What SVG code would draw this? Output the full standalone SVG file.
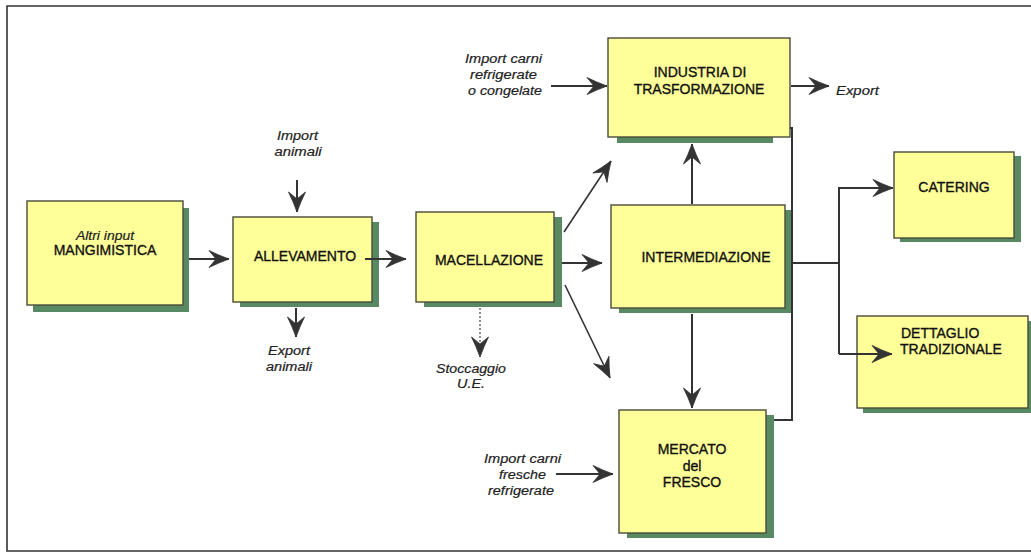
<svg xmlns="http://www.w3.org/2000/svg" width="1031" height="552" viewBox="0 0 1031 552">
<style>
.shadow{fill:#578a62}
.box{fill:#ffff99;stroke:#4a4a3a;stroke-width:1.4}
.lbl{font-family:"Liberation Sans",Arial,sans-serif;font-size:14px;fill:#111;stroke:#111;stroke-width:0.35;text-anchor:middle}
.ital{font-family:"Liberation Sans",Arial,sans-serif;font-size:12.5px;font-style:italic;fill:#222;stroke:#222;stroke-width:0.2;text-anchor:middle}
.con{fill:none;stroke:#333;stroke-width:2}
.thin{fill:none;stroke:#333;stroke-width:1.6}
.dash{fill:none;stroke:#444;stroke-width:1.2;stroke-dasharray:2 2}
</style>
<defs>
<marker id="ah" markerUnits="userSpaceOnUse" markerWidth="24" markerHeight="20" viewBox="-22 -10 24 20" refX="0" refY="0" orient="auto" overflow="visible">
<path d="M0,0 Q-11,-4 -20,-8.5 L-13,0 L-20,8.5 Q-11,4 0,0 Z" fill="#333" stroke="#333" stroke-width="0.8" stroke-linejoin="round"/>
</marker>
</defs>
<rect x="0" y="0" width="1031" height="552" fill="#fff"/>
<path d="M1031,6 H7 V551 H1031" fill="none" stroke="#333" stroke-width="1.6"/>

<g id="altri-input">
<rect class="shadow" x="33" y="208" width="156" height="104"/>
<rect class="box" x="27" y="201" width="156" height="104"/>
<text class="ital" x="105" y="240" font-size="13" textLength="58" lengthAdjust="spacingAndGlyphs">Altri input</text>
<text class="lbl" x="105" y="255">MANGIMISTICA</text>
</g>

<g id="allevamento">
<rect class="shadow" x="240" y="222" width="139" height="85"/>
<rect class="box" x="233" y="217" width="139" height="85"/>
<text class="lbl" x="305" y="261">ALLEVAMENTO</text>
</g>

<g id="macellazione">
<rect class="shadow" x="424" y="217" width="138" height="90"/>
<rect class="box" x="416" y="212" width="138" height="90"/>
<text class="lbl" x="489" y="265">MACELLAZIONE</text>
</g>

<g id="industria">
<rect class="shadow" x="617" y="44" width="156" height="99"/>
<rect class="box" x="608" y="38" width="182" height="99"/>
<text class="lbl" x="700" y="77">INDUSTRIA DI</text>
<text class="lbl" x="699" y="94">TRASFORMAZIONE</text>
</g>

<g id="intermediazione">
<rect class="shadow" x="619" y="210" width="174" height="103"/>
<rect class="box" x="611" y="205" width="174" height="103"/>
<text class="lbl" x="706" y="262">INTERMEDIAZIONE</text>
</g>

<g id="catering">
<rect class="shadow" x="900" y="156" width="121" height="86"/>
<rect class="box" x="894" y="152" width="120" height="86"/>
<text class="lbl" x="954" y="192">CATERING</text>
</g>

<g id="dettaglio">
<rect class="shadow" x="863" y="321" width="171" height="92"/>
<rect class="box" x="857" y="316" width="171" height="92"/>
<text class="lbl" x="901" y="338" style="text-anchor:start">DETTAGLIO</text>
<text class="lbl" x="900" y="354" style="text-anchor:start">TRADIZIONALE</text>
</g>

<g id="mercato">
<rect class="shadow" x="627" y="415" width="147" height="123"/>
<rect class="box" x="619" y="410" width="147" height="123"/>
<text class="lbl" x="692" y="454">MERCATO</text>
<text class="lbl" x="692" y="471">del</text>
<text class="lbl" x="692" y="487">FRESCO</text>
</g>

<g id="connectors">
<line class="con" x1="189" y1="259" x2="229" y2="259" marker-end="url(#ah)"/>
<line class="con" x1="365" y1="259" x2="406" y2="259" marker-end="url(#ah)"/>
<line class="con" x1="297" y1="180" x2="297" y2="212" marker-end="url(#ah)"/>
<line class="con" x1="296" y1="308" x2="296" y2="337" marker-end="url(#ah)"/>
<line class="dash" x1="480" y1="308" x2="480" y2="357" marker-end="url(#ah)"/>
<line class="con" x1="562" y1="263" x2="602" y2="263" marker-end="url(#ah)"/>
<line class="thin" x1="564" y1="232" x2="611" y2="161" marker-end="url(#ah)"/>
<line class="thin" x1="565" y1="285" x2="610" y2="378" marker-end="url(#ah)"/>
<line class="con" x1="692" y1="204" x2="692" y2="144" marker-end="url(#ah)"/>
<line class="con" x1="692" y1="314" x2="692" y2="408" marker-end="url(#ah)"/>
<path class="con" d="M774,420 H792 V128 H790"/>
<line class="con" x1="551" y1="86" x2="607" y2="86" marker-end="url(#ah)"/>
<line class="con" x1="791" y1="86" x2="829" y2="86" marker-end="url(#ah)"/>
<path class="con" d="M793,263 H839"/>
<path class="con" d="M839,354 V188 H893" marker-end="url(#ah)"/>
<path class="con" d="M839,354 H892" marker-end="url(#ah)"/>
<line class="con" x1="556" y1="474" x2="613" y2="474" marker-end="url(#ah)"/>
</g>

<g id="labels">
<text class="ital" x="297.5" y="140" textLength="41" lengthAdjust="spacingAndGlyphs">Import</text>
<text class="ital" x="298" y="156" textLength="47" lengthAdjust="spacingAndGlyphs">animali</text>
<text class="ital" x="289" y="355" textLength="42" lengthAdjust="spacingAndGlyphs">Export</text>
<text class="ital" x="289" y="371" textLength="46" lengthAdjust="spacingAndGlyphs">animali</text>
<text class="ital" x="471" y="373" textLength="70" lengthAdjust="spacingAndGlyphs">Stoccaggio</text>
<text class="ital" x="471" y="388" textLength="28" lengthAdjust="spacingAndGlyphs">U.E.</text>
<text class="ital" x="503.5" y="63" textLength="77" lengthAdjust="spacingAndGlyphs">Import carni</text>
<text class="ital" x="503.5" y="79" textLength="67" lengthAdjust="spacingAndGlyphs">refrigerate</text>
<text class="ital" x="505" y="95" textLength="74" lengthAdjust="spacingAndGlyphs">o congelate</text>
<text class="ital" x="857.5" y="95" textLength="43" lengthAdjust="spacingAndGlyphs">Export</text>
<text class="ital" x="522.5" y="463" textLength="77" lengthAdjust="spacingAndGlyphs">Import carni</text>
<text class="ital" x="522.5" y="479" textLength="47" lengthAdjust="spacingAndGlyphs">fresche</text>
<text class="ital" x="521" y="495" textLength="66" lengthAdjust="spacingAndGlyphs">refrigerate</text>
</g>
</svg>
